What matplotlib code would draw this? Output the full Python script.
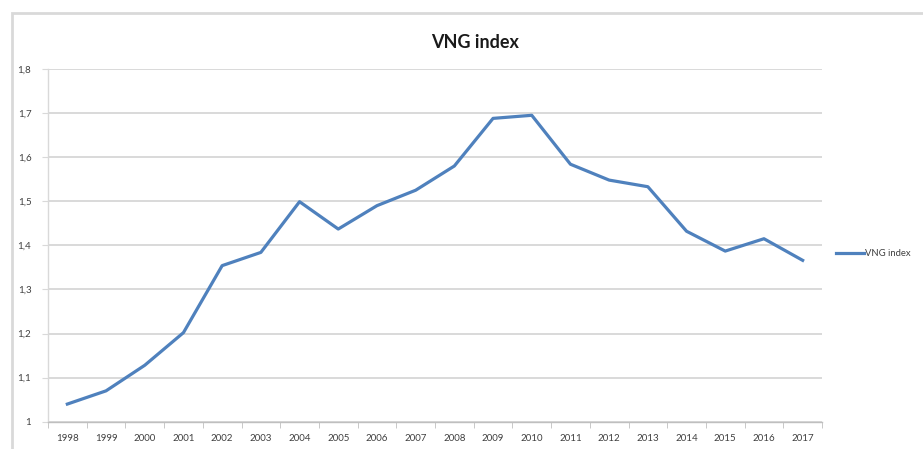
import matplotlib
matplotlib.use("Agg")
import matplotlib.pyplot as plt
from matplotlib.patches import Rectangle
from matplotlib.ticker import FuncFormatter

years = ["1998", "1999", "2000", "2001", "2002", "2003", "2004", "2005", "2006", "2007",
         "2008", "2009", "2010", "2011", "2012", "2013", "2014", "2015", "2016", "2017"]
vng_index = [1.04, 1.07, 1.128, 1.202, 1.354, 1.384, 1.499, 1.437, 1.49, 1.525,
             1.58, 1.688, 1.695, 1.584, 1.548, 1.533, 1.432, 1.387, 1.415, 1.366]
y_ticks = [1.0, 1.1, 1.2, 1.3, 1.4, 1.5, 1.6, 1.7, 1.8]

plt.rcParams["font.family"] = ["Lato", "DejaVu Sans"]

W, H = 923, 449
fig = plt.figure(figsize=(W / 100, H / 100), dpi=100)
fig.patch.set_facecolor("white")

# chart-area frame (runs off the right and bottom edges)
fig.add_artist(Rectangle((11.5 / W, -0.05), 1.1, 1.05 - 13 / H,
                         transform=fig.transFigure, fill=False,
                         edgecolor="#d9d9d9", linewidth=2.0))

ax = fig.add_axes([48 / W, 1 - 421.7 / H, (822 - 48) / W, (421.7 - 69) / H])
x = list(range(len(years)))
line, = ax.plot(x, vng_index, color="#4f81bd", linewidth=2.3,
                solid_joinstyle="round", label="VNG index", zorder=3)

ax.set_xlim(-0.5, len(years) - 0.5)
ax.set_ylim(1.0, 1.8)
ax.set_yticks(y_ticks)
ax.yaxis.set_major_formatter(FuncFormatter(
    lambda v, _: "1" if abs(v - 1) < 1e-9 else f"{v:.1f}".replace(".", ",")))
ax.set_xticks(x)
ax.set_xticklabels(years)
ax.set_xticks([i - 0.5 for i in range(len(years) + 1)], minor=True)

ax.grid(axis="y", color="#d9d9d9", linewidth=1.4, zorder=0)
for s in ["top", "right"]:
    ax.spines[s].set_visible(False)
ax.spines["left"].set_color("#d9d9d9")
ax.spines["bottom"].set_color("#bfbfbf")
ax.spines["left"].set_linewidth(1.0)
ax.spines["bottom"].set_linewidth(1.0)

ax.tick_params(axis="x", which="major", length=0, pad=9, labelsize=7, labelcolor="#404040")
ax.tick_params(axis="x", which="minor", length=4, color="#bfbfbf", direction="out")
ax.tick_params(axis="y", length=4, color="#d9d9d9", pad=8, labelsize=7, labelcolor="#404040")

fig.text(475 / W, 1 - 42 / H, "VNG index", ha="center", va="center",
         fontsize=13, fontweight="bold", color="#1a1a1a")

fig.legend(handles=[line], labels=["VNG index"], loc="center left",
           bbox_to_anchor=(832 / W, 1 - 254 / H), frameon=False,
           fontsize=6.8, handlelength=3.0, handletextpad=0.1,
           borderaxespad=0.0, labelcolor="#404040")

fig.savefig("out.png", dpi=100, facecolor="white")
